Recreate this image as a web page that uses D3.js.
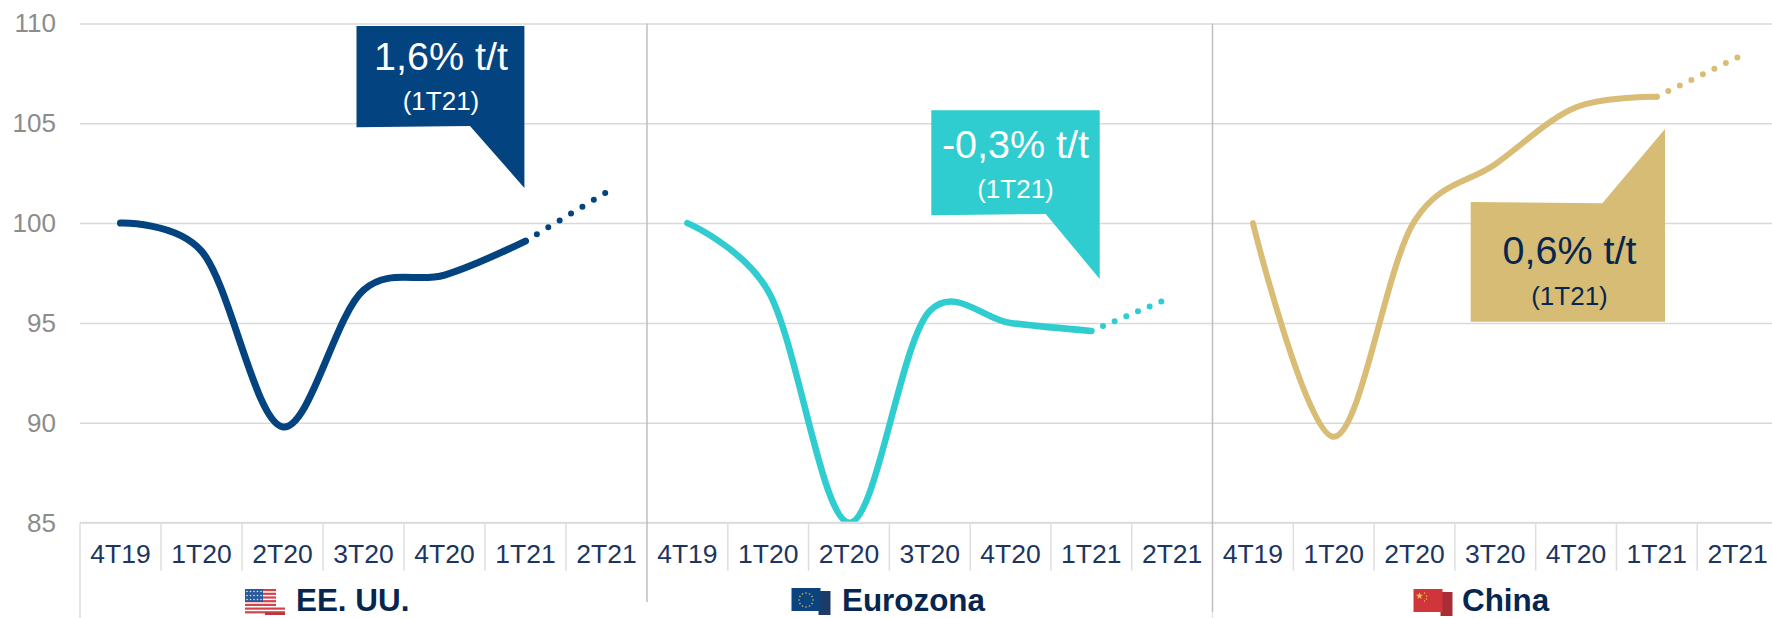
<!DOCTYPE html>
<html>
<head>
<meta charset="utf-8">
<script src="https://cdn.jsdelivr.net/npm/d3@7"></script>
<style>
  html, body { margin: 0; padding: 0; background: #fff; overflow: hidden; }
  svg { display: block; }
  text { font-family: "Liberation Sans", Arial, sans-serif; }
</style>
</head>
<body>
<div class="graph-container"></div>
<script>
// Data
var categories = ['4T19', '1T20', '2T20', '3T20', '4T20', '1T21', '2T21']
var yTicks = [85, 90, 95, 100, 105, 110]
var panelNames = ['EE. UU.', 'Eurozona', 'China']
var usValues = [100, 98.6, 89.8, 96.65, 97.4, 99.1, 101.55]
var euValues = [100, 96.6, 85, 95.6, 95.0, 94.6, 96.3]
var cnValues = [100, 89.3, 100.1, 102.95, 105.8, 106.33, 108.3]
var calloutTitles = ['1,6% t/t', '-0,3% t/t', '0,6% t/t']
var calloutSubtitle = '(1T21)'

var colors = ['#03437f', '#2fcdcf', '#d9bd76']
var lineWidths = [7, 6.5, 6]
var forecastDots = [7, 6, 7]
var dotSteps = [13.3, 12.65, 12.8]
var calloutColors = ['#03437f', '#2fcdcf', '#d6bc74']
var calloutText = ['#fff', '#fff', '#06264f']
var navy = '#1c3560'

var width = 1772, height = 618
var edges = [80, 647, 1212.5, 1778]
var axisY = 522.7, topY = 23.4

var svg = d3.select('.graph-container').append('svg')
    .attr('width', width)
    .attr('height', height)

var y = d3.scaleLinear()
    .domain([85, 110])
    .range([axisY, topY])

var xScales = panelNames.map((_, i) => d3.scaleBand()
    .domain(categories)
    .range([edges[i], edges[i + 1]]))

// Gridlines + y labels
var yAxis = d3.axisLeft(y)
    .tickValues(yTicks)
    .tickSize(-(width - edges[0]))
    .tickPadding(24)

var gy = svg.append('g')
    .attr('transform', 'translate(' + edges[0] + ',0)')
    .call(yAxis)
gy.select('.domain').remove()
gy.selectAll('line').attr('stroke', '#d9d9d9').attr('stroke-width', 1.5)
gy.selectAll('text')
    .attr('fill', '#8c8c8c')
    .style('font-size', '26px')

// Category axes
xScales.forEach(x => {
  var xAxis = d3.axisBottom(x).tickSize(0).tickPadding(21)
  var g = svg.append('g')
      .attr('transform', 'translate(0,' + axisY + ')')
      .call(xAxis)
  g.select('.domain').remove()
  g.selectAll('text')
      .attr('fill', navy)
      .style('font-size', '26.5px')

  // separators between the categories
  g.selectAll('.sep')
    .data(categories.slice(1))
    .enter().append('line')
    .attr('class', 'sep')
    .attr('x1', d => x(d))
    .attr('x2', d => x(d))
    .attr('y1', 0)
    .attr('y2', 48)
    .attr('stroke', '#dedede')
    .attr('stroke-width', 1.5)
})

svg.append('line')
    .attr('x1', edges[0]).attr('x2', width)
    .attr('y1', axisY).attr('y2', axisY)
    .attr('stroke', '#dedede').attr('stroke-width', 2)

svg.append('line')
    .attr('x1', edges[0]).attr('x2', edges[0])
    .attr('y1', axisY).attr('y2', height)
    .attr('stroke', '#dedede').attr('stroke-width', 1.5)

// Lines are cut at the bottom axis
svg.append('clipPath').attr('id', 'plot-clip')
  .append('rect')
    .attr('x', 0).attr('y', 0)
    .attr('width', width).attr('height', axisY - 1)

var allValues = [usValues, euValues, cnValues]

allValues.forEach((values, i) => {
  var x = xScales[i]
  var line = d3.line()
      .x((d, k) => x(categories[k]) + x.bandwidth() / 2)
      .y(d => y(d))
      .curve(d3.curveCatmullRom.alpha(0.15))

  svg.append('path')
      .attr('d', line(values.slice(0, 6)))
      .attr('fill', 'none')
      .attr('stroke', colors[i])
      .attr('stroke-width', lineWidths[i])
      .attr('stroke-linecap', 'round')
      .attr('clip-path', 'url(#plot-clip)')

  // forecast part, a fixed count of dots at a fixed step
  var dotted = d3.line()
      .x((d, k) => x(categories[k + 5]) + x.bandwidth() / 2)
      .y(d => y(d))
  var dash = d3.range(forecastDots[i]).map(() => '0 ' + dotSteps[i]).join(' ') + ' 0 1000'
  svg.append('path')
      .attr('d', dotted(values.slice(5)))
      .attr('fill', 'none')
      .attr('stroke', colors[i])
      .attr('stroke-width', 6)
      .attr('stroke-linecap', 'round')
      .attr('stroke-dasharray', dash)
})

// Dividers between panels
edges.slice(1, 3).forEach((d, i) => {
  svg.append('line')
      .attr('x1', d).attr('x2', d)
      .attr('y1', topY).attr('y2', i == 0 ? 602 : 612)
      .attr('stroke', '#bfbfbf')
      .attr('stroke-width', 1.5)
})
svg.append('line')
    .attr('x1', edges[2]).attr('x2', edges[2])
    .attr('y1', 612).attr('y2', height)
    .attr('stroke', '#e6e6e6').attr('stroke-width', 1.5)

// Callouts
var calloutShapes = [
  [[356.5, 26], [524.4, 26], [524.4, 188], [470, 126], [356.5, 127.3]],
  [[931.3, 110.3], [1099.7, 110.3], [1099.7, 279], [1045.7, 214], [931.3, 215.3]],
  [[1470.7, 202], [1602.3, 203.3], [1665, 129], [1665, 321.7], [1470.7, 321.7]]
]
var calloutPos = [
  {x: 441, title: 70, sub: 110},
  {x: 1015.5, title: 158.3, sub: 198},
  {x: 1569.5, title: 264.3, sub: 305}
]

calloutShapes.forEach((pts, i) => {
  svg.append('polygon')
      .attr('points', pts.map(p => p.join(',')).join(' '))
      .attr('fill', calloutColors[i])
  svg.append('text')
      .attr('x', calloutPos[i].x)
      .attr('y', calloutPos[i].title)
      .attr('text-anchor', 'middle')
      .attr('fill', calloutText[i])
      .style('font-size', '39.5px')
      .text(calloutTitles[i])
  svg.append('text')
      .attr('x', calloutPos[i].x)
      .attr('y', calloutPos[i].sub)
      .attr('text-anchor', 'middle')
      .attr('fill', calloutText[i])
      .style('font-size', '26px')
      .text(calloutSubtitle)
})

// Panel titles
var titlePos = [[296, 611], [842, 611], [1462, 611]]
panelNames.forEach((name, i) => {
  svg.append('text')
      .attr('x', titlePos[i][0])
      .attr('y', titlePos[i][1])
      .attr('fill', '#06264f')
      .style('font-size', '31.4px')
      .style('font-weight', 'bold')
      .text(name)
})

// Flags
function flagBase(x, y0, front, back) {
  var g = svg.append('g').attr('transform', 'translate(' + x + ',' + y0 + ')')
  g.append('rect').attr('x', 27).attr('y', 3).attr('width', 12).attr('height', 24).attr('fill', back)
  g.append('rect').attr('width', 29).attr('height', 23).attr('fill', front)
  return g
}

// US
var us = svg.append('g').attr('transform', 'translate(245,589)')
d3.range(7).forEach(k => {
  us.append('rect')
      .attr('y', k * 3.7)
      .attr('width', k > 4 ? 40 : 31)
      .attr('height', 2.2)
      .attr('fill', '#d2444a')
})
us.append('rect').attr('x', 20).attr('y', 23.5).attr('width', 20).attr('height', 2.5).attr('fill', '#b8393f')
us.append('rect').attr('width', 18).attr('height', 13).attr('fill', '#2a5a9a')
d3.range(3).forEach(r => d3.range(5).forEach(c => {
  us.append('circle')
      .attr('cx', 2 + c * 3.5).attr('cy', 2.5 + r * 4)
      .attr('r', 0.8).attr('fill', '#dfe8f3')
}))

// EU
var eu = flagBase(791.5, 588, '#0b437f', '#1e3a66')
d3.range(12).forEach(k => {
  var a = k / 12 * 2 * Math.PI
  eu.append('circle')
      .attr('cx', 14.5 + 7 * Math.cos(a))
      .attr('cy', 12 + 7 * Math.sin(a))
      .attr('r', 0.8)
      .attr('fill', '#d9c25a')
})

// China
var cn = flagBase(1413.5, 589, '#cf353b', '#a82d36')
cn.append('path')
    .attr('d', d3.symbol().type(d3.symbolStar).size(16)())
    .attr('transform', 'translate(6,7)')
    .attr('fill', '#f2c94c')
;[[11, 4], [13, 7], [13, 10], [11, 12]].forEach(p => {
  cn.append('circle').attr('cx', p[0]).attr('cy', p[1]).attr('r', 0.7).attr('fill', '#f2c94c')
})
</script>
</body>
</html>
